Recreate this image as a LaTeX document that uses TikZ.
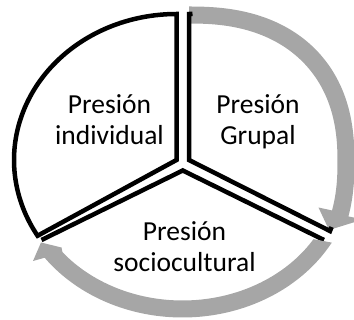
\documentclass[tikz,border=0pt]{standalone}
\usepackage{fontspec}
\setmainfont{Carlito}
\definecolor{arrowgray}{RGB}{166,166,166}
\begin{document}
\begin{tikzpicture}[x=1pt,y=-1pt,line width=4.5pt,line join=miter,
  declare function={sqc(\t,\p)=cos(\t)*(abs(cos(\t))+0.0001)^(\p-1);
                    sqs(\t,\p)=sin(\t)*(abs(sin(\t))+0.0001)^(\p-1);},
  lbl/.style={anchor=base,inner sep=0pt,font=\fontsize{27.5}{31}\selectfont}]
\useasboundingbox (0,0) rectangle (354,320);
\clip (0,0) rectangle (354,320);
% left sector (individual)
\coordinate (apexL) at (176.5,160);
\draw (apexL) -- plot[domain=90:211.25,samples=80,variable=\t]
   ({176.5+162.5*cos(\t)},{160-146*sin(\t)}) -- cycle;
% bottom sector (sociocultural) straight edges
\coordinate (apexB) at (182.75,170.5);
\coordinate (cornerBL) at (41.5,240);
\coordinate (cornerBR) at (324,240);
\draw (cornerBL) -- (apexB) -- (cornerBR);
% right arrow (along the Grupal sector)
\fill[arrowgray] plot[domain=90:-16.9,samples=80,variable=\t]
   ({189+165.5*sqc(\t,0.85)},{162-155.5*sqs(\t,0.85)})
   -- (363,219.5) -- (329,230) -- (318.5,207.5)
   -- plot[domain=-16.9:90,samples=80,variable=\t]
   ({189+148.5*sqc(\t,0.85)},{162-138.5*sqs(\t,0.85)}) -- cycle;
% bottom arrow (along the sociocultural sector)
\fill[arrowgray] plot[domain=-29.5:-143.5,samples=80,variable=\t]
   ({182.5+171.5*cos(\t)},{170-147.5*sin(\t)})
   -- (33,261) -- (41,242.5) -- (61.5,247.5)
   -- plot[domain=-141:-32,samples=80,variable=\t]
   ({182.5+154.5*cos(\t)},{170-130.5*sin(\t)}) -- cycle;
% right sector (Grupal) straight edges
\coordinate (apexR) at (189,160);
\coordinate (cornerR) at (330,231);
\coordinate (topR) at (189,14);
\draw (331.6,227) -- (cornerR) -- (apexR) -- (topR) -- (192.5,13.9);
% labels
\node[lbl] (ind1) at (109.5,113.5) {Presión};
\node[lbl] (ind2) at (109.5,145) {individual};
\node[lbl] (gru1) at (258,113.5) {Presión};
\node[lbl] (gru2) at (258,145) {Grupal};
\node[lbl] (soc1) at (184.5,241) {Presión};
\node[lbl] (soc2) at (184.5,272) {sociocultural};
\end{tikzpicture}
\end{document}
